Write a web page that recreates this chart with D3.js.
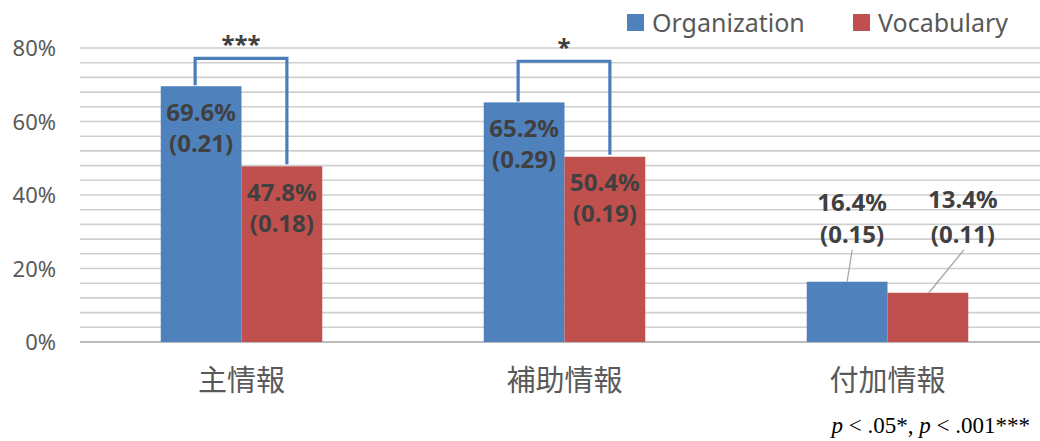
<!DOCTYPE html>
<html>
<head>
<meta charset="utf-8">
<script src="https://cdn.jsdelivr.net/npm/d3@7"></script>
<style>
  html, body { margin: 0; padding: 0; background: #fff; }
  svg { display: block; }
</style>
</head>
<body>
<svg id="chart" width="1040" height="441"></svg>
<script>
// Chart data
const categories = ["主情報", "補助情報", "付加情報"];
const seriesNames = ["Organization", "Vocabulary"];
const organization = [69.6, 65.2, 16.4];
const vocabulary = [47.8, 50.4, 13.4];
const organizationSD = [0.21, 0.29, 0.15];
const vocabularySD = [0.18, 0.19, 0.11];
const yTicks = [0, 20, 40, 60, 80];
const yMinorStep = 4;
// Significance brackets: category index, bracket height (%), marker
const brackets = [
  { cat: 0, top: 77.2, mark: "***" },
  { cat: 1, top: 76.4, mark: "*" }
];

const colors = ["#4f81bd", "#c0504d"];
const svg = d3.select("#chart");
const W = 1040, H = 441;
const margin = { left: 80, right: -9, top: 48, bottom: 99 };

const x = d3.scaleBand().domain(categories)
  .range([margin.left, W - margin.right]).paddingInner(0).paddingOuter(0);
const xs = d3.scaleBand().domain(seriesNames)
  .range([0, x.bandwidth()]).paddingInner(0).paddingOuter(1);
const y = d3.scaleLinear().domain([0, 80]).range([H - margin.bottom, margin.top]);

// gridlines every 4%
const gridVals = d3.range(yMinorStep, 80 + 0.01, yMinorStep);
svg.append("g").selectAll("line").data(gridVals).join("line")
  .attr("x1", margin.left).attr("x2", W)
  .attr("y1", d => y(d)).attr("y2", d => y(d))
  .attr("stroke", "#cfcfcf").attr("stroke-width", 1.6);

// baseline
svg.append("line")
  .attr("x1", margin.left).attr("x2", W)
  .attr("y1", y(0)).attr("y2", y(0))
  .attr("stroke", "#bcbcbc").attr("stroke-width", 2);

// y axis labels
const yAxis = d3.axisLeft(y).tickValues(yTicks).tickFormat(d => d + "%").tickSize(0).tickPadding(0);
const ya = svg.append("g").attr("transform", "translate(56,0)").call(yAxis);
ya.select(".domain").remove();
ya.selectAll("text").attr("font-family", "'Noto Sans', sans-serif")
  .attr("font-size", 22).attr("fill", "#595959").attr("dy", "0.35em");

// bars
const rows = categories.map((c, i) => ({
  cat: c,
  vals: [
    { s: seriesNames[0], v: organization[i], sd: organizationSD[i] },
    { s: seriesNames[1], v: vocabulary[i], sd: vocabularySD[i] }
  ]
}));

const groups = svg.append("g").selectAll("g").data(rows).join("g")
  .attr("transform", d => `translate(${x(d.cat)},0)`);

groups.selectAll("rect").data(d => d.vals).join("rect")
  .attr("x", d => xs(d.s)).attr("width", xs.bandwidth())
  .attr("y", d => y(d.v)).attr("height", d => y(0) - y(d.v))
  .attr("fill", (d, i) => colors[i]);

// value labels
const labelFont = "'Noto Sans', 'Open Sans', sans-serif";
rows.forEach((r, ci) => {
  r.vals.forEach((d, si) => {
    const cx = x(r.cat) + xs(d.s) + xs.bandwidth() / 2;
    let l1, l2, anchorX = cx;
    const inside = d.v > 30;
    if (inside) {
      l1 = y(d.v) + 26; l2 = y(d.v) + 57;
    } else {
      // small bars: label above with a leader line
      const off = si === 0 ? 5 : 35;
      anchorX = cx + off;
      l1 = si === 0 ? 203 : 200;
      l2 = 235;
      svg.append("line")
        .attr("x1", anchorX + (si === 0 ? 0 : 1)).attr("y1", l2 + 15)
        .attr("x2", cx + (si === 0 ? 0 : 1)).attr("y2", y(d.v))
        .attr("stroke", "#a6a6a6").attr("stroke-width", 1.3);
    }
    [[d.v.toFixed(1) + "%", l1], ["(" + d.sd.toFixed(2) + ")", l2]].forEach(([t, yy]) => {
      svg.append("text").attr("x", anchorX).attr("y", yy).attr("dy", "0.35em")
        .attr("text-anchor", "middle").attr("font-family", labelFont)
        .attr("font-weight", "bold").attr("font-size", 24).attr("fill", "#404040")
        .text(t);
    });
  });
});

// significance brackets
brackets.forEach(b => {
  const c = categories[b.cat];
  const x1 = x(c) + xs(seriesNames[0]) + xs.bandwidth() / 2 - 6;
  const x2 = x(c) + xs(seriesNames[1]) + xs.bandwidth() / 2 + 5;
  const yb1 = y(organization[b.cat]) - 1;
  const yb2 = y(vocabulary[b.cat]) - 2;
  const yt = y(b.top);
  svg.append("path")
    .attr("d", `M${x1},${yb1}V${yt}H${x2}V${yb2}`)
    .attr("fill", "none").attr("stroke", "#4a7ebb").attr("stroke-width", 3.2);
  svg.append("text").attr("x", (x1 + x2) / 2).attr("y", yt - 5)
    .attr("text-anchor", "middle").attr("font-family", labelFont)
    .attr("font-weight", "bold").attr("font-size", 24).attr("fill", "#404040")
    .text(b.mark);
});

// category labels
svg.append("g").selectAll("text").data(categories).join("text")
  .attr("x", d => x(d) + x.bandwidth() / 2).attr("y", 381).attr("dy", "0.35em")
  .attr("text-anchor", "middle").attr("font-family", "'Noto Sans CJK JP', sans-serif")
  .attr("font-size", 29).attr("fill", "#595959").text(d => d);

// legend
const lg = svg.append("g");
const legendX = [627, 853];
seriesNames.forEach((s, i) => {
  lg.append("rect").attr("x", legendX[i]).attr("y", 14).attr("width", 17).attr("height", 17)
    .attr("fill", colors[i]);
  lg.append("text").attr("x", legendX[i] + 25).attr("y", 23).attr("dy", "0.35em")
    .attr("font-family", "'Noto Sans', sans-serif").attr("font-size", 25)
    .attr("fill", "#595959").text(s);
});

// significance note
const nt = svg.append("text").attr("x", 1030).attr("y", 425).attr("dy", "0.35em")
  .attr("text-anchor", "end").attr("font-family", "'Liberation Serif', serif")
  .attr("font-size", 23).attr("fill", "#000");
nt.append("tspan").attr("font-style", "italic").text("p");
nt.append("tspan").text(" < .05*, ");
nt.append("tspan").attr("font-style", "italic").text("p");
nt.append("tspan").text(" < .001***");
</script>
</body>
</html>
